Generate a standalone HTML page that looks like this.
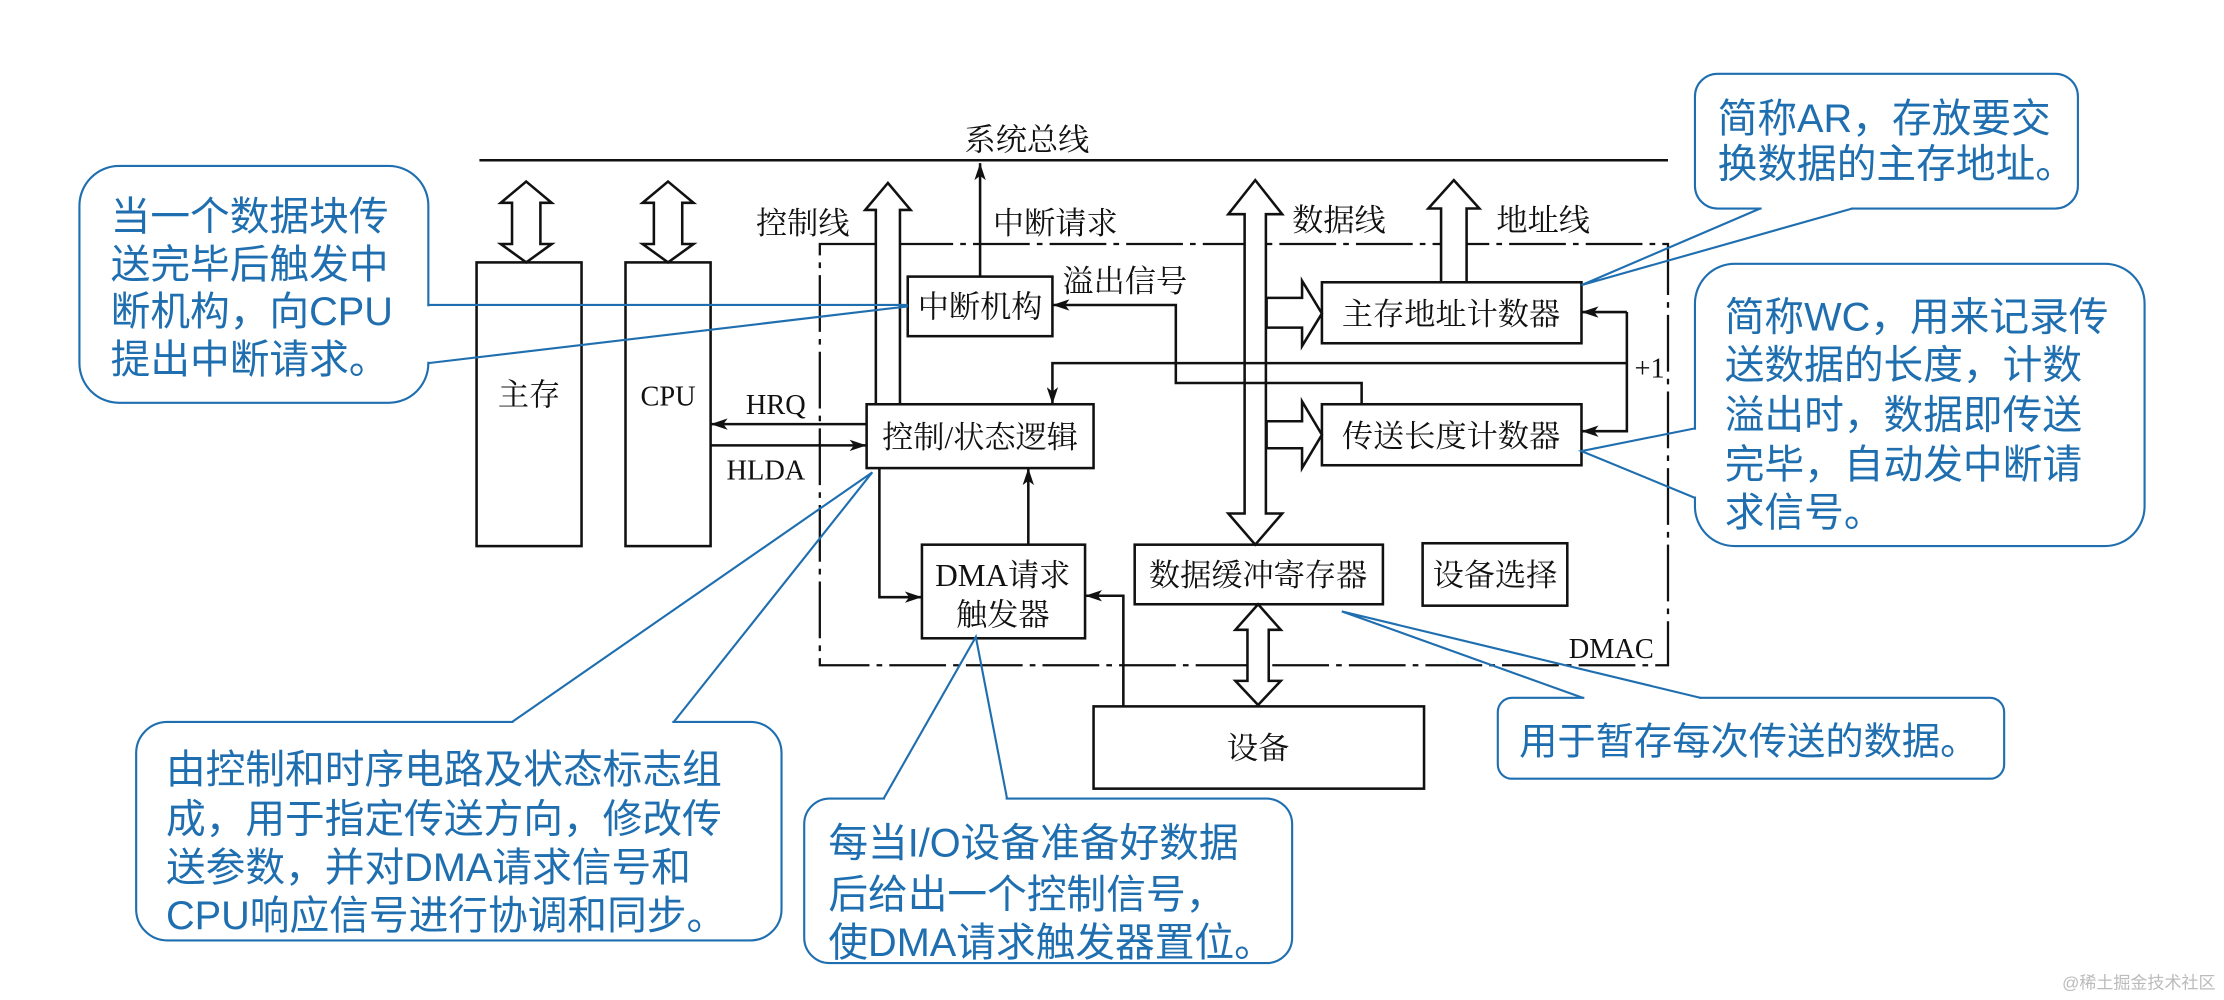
<!DOCTYPE html>
<html><head><meta charset="utf-8"><style>
html,body{margin:0;padding:0;background:#fff;}
svg{display:block}
.k{font-family:"Liberation Serif","Noto Serif CJK SC",serif;font-size:22px;fill:#111;}
.b{font-family:"Liberation Sans","Noto Sans CJK SC",sans-serif;font-size:28px;fill:#1f6fb0;}
</style></head><body>
<svg width="2224" height="1000" viewBox="0 0 1568 705" preserveAspectRatio="none" xmlns="http://www.w3.org/2000/svg">
<defs>
<marker id="ar" viewBox="0 0 12 8" refX="12" refY="4" markerWidth="12" markerHeight="8" orient="auto" markerUnits="userSpaceOnUse"><path d="M0,0 L12,4 L0,8 L3,4 z" fill="#111"/></marker>
</defs>
<g stroke="#111" stroke-width="1.8" fill="none">
<line x1="338" y1="113" x2="1176" y2="113"/>
<rect x="578" y="172" width="598" height="297" stroke-dasharray="40 5 4 5" stroke-width="1.6"/>
<rect x="336" y="185" width="74" height="200" fill="#fff"/>
<rect x="441" y="185" width="60" height="200" fill="#fff"/>
<rect x="640" y="195" width="102" height="42" fill="#fff"/>
<rect x="611" y="285" width="160" height="45" fill="#fff"/>
<rect x="650" y="384" width="115" height="66" fill="#fff"/>
<rect x="932" y="199" width="183" height="43" fill="#fff"/>
<rect x="932" y="285" width="183" height="43" fill="#fff"/>
<rect x="800" y="384" width="175" height="42" fill="#fff"/>
<rect x="1003" y="383" width="102" height="44" fill="#fff"/>
<rect x="771" y="498" width="233" height="58" fill="#fff"/>
<!-- hollow arrows -->
<polygon fill="#fff" points="371,128 389,143 381,143 381,172 389,172 371,185 353,172 361,172 361,143 353,143"/>
<polygon fill="#fff" points="471,128 489,143 481,143 481,172 489,172 471,185 453,172 461,172 461,143 453,143"/>
<polygon fill="#fff" points="626,129 642,148 634.5,148 634.5,285 617.5,285 617.5,148 610,148"/>
<polygon fill="#fff" points="885,127 904,151 892.5,151 892.5,362 904,362 885,384 866,362 877.5,362 877.5,151 866,151"/>
<polygon fill="#fff" points="1025,127 1043,147 1034,147 1034,199 1016,199 1016,147 1007,147"/>
<polygon fill="#fff" points="887,426 903,444 894.5,444 894.5,480 903,480 887,497 871,480 879.5,480 879.5,444 871,444"/>
<polygon fill="#fff" points="893,210 918,210 918,198 932,221 918,244 918,231 893,231"/>
<polygon fill="#fff" points="893,297 918,297 918,283 932,306.5 918,330 918,316 893,316"/>
<!-- thin lines -->
<line x1="691" y1="195" x2="691" y2="115" marker-end="url(#ar)"/>
<polyline points="960,285 960,270 829,270 829,215 742,215" marker-end="url(#ar)"/>
<polyline points="1147,256 742,256 742,285" marker-end="url(#ar)"/>
<polyline points="1147,220 1115,220" marker-end="url(#ar)"/>
<polyline points="1147,220 1147,304 1115,304" marker-end="url(#ar)"/>
<line x1="611" y1="299" x2="501" y2="299" marker-end="url(#ar)"/>
<line x1="501" y1="314" x2="611" y2="314" marker-end="url(#ar)"/>
<polyline points="620,330 620,421 650,421" marker-end="url(#ar)"/>
<line x1="725" y1="384" x2="725" y2="330" marker-end="url(#ar)"/>
<polyline points="792,498 792,420 765,420" marker-end="url(#ar)"/>
</g>
<g class="k" text-anchor="middle">
<text x="724" y="106">系统总线</text>
<text x="566" y="165">控制线</text>
<text x="744" y="165">中断请求</text>
<text x="944" y="163">数据线</text>
<text x="1088" y="163">地址线</text>
<text x="793" y="206">溢出信号</text>
<text x="691" y="224">中断机构</text>
<text x="1023" y="229">主存地址计数器</text>
<text x="1163" y="266" font-size="20">+1</text>
<text x="1023" y="315">传送长度计数器</text>
<text x="547" y="292" font-size="20">HRQ</text>
<text x="540" y="338" font-size="20">HLDA</text>
<text x="691" y="316">控制/状态逻辑</text>
<text x="373" y="286">主存</text>
<text x="471" y="286" font-size="20">CPU</text>
<text x="707" y="413">DMA请求</text>
<text x="707" y="441">触发器</text>
<text x="887" y="413">数据缓冲寄存器</text>
<text x="1054" y="413">设备选择</text>
<text x="1136" y="464" font-size="20">DMAC</text>
<text x="887" y="535">设备</text>
</g>
<!-- callouts -->
<g stroke="#1f6fb0" stroke-width="1.5" fill="none">
<rect x="56" y="117" width="246" height="167" rx="28"/>
<rect x="1195" y="52" width="270" height="95" rx="16"/>
<rect x="1195" y="186" width="317" height="199" rx="28"/>
<rect x="1056" y="492" width="357" height="57" rx="10"/>
<rect x="96" y="509" width="455" height="154" rx="22"/>
<rect x="567" y="563" width="344" height="116" rx="18"/>
</g>
<g stroke="#fff" stroke-width="3">
<line x1="302" y1="216" x2="302" y2="255"/>
<line x1="1242" y1="147" x2="1305" y2="147"/>
<line x1="1195" y1="303" x2="1195" y2="350"/>
<line x1="1117" y1="492" x2="1198" y2="492"/>
<line x1="362" y1="509" x2="474" y2="509"/>
<line x1="624" y1="563" x2="709" y2="563"/>
</g>
<g stroke="#1f6fb0" stroke-width="1.5" fill="none">
<polyline points="302,215 640,215"/><polyline points="302,256 640,216"/>
<polyline points="1241,147 1115,201 1306,147"/>
<polyline points="1195,302 1115,318 1195,351"/>
<polyline points="1116,492 946,431 1199,492"/>
<polyline points="361,509 615,333 475,509"/>
<polyline points="623,563 688,449 710,563"/>
</g>
<g class="b">
<text x="78" y="162">当一个数据块传</text>
<text x="78" y="196">送完毕后触发中</text>
<text x="78" y="229">断机构，向CPU</text>
<text x="78" y="263">提出中断请求。</text>
<text x="1211" y="93">简称AR，存放要交</text>
<text x="1211" y="125">换数据的主存地址。</text>
<text x="1216" y="233">简称WC，用来记录传</text>
<text x="1216" y="267">送数据的长度，计数</text>
<text x="1216" y="302">溢出时，数据即传送</text>
<text x="1216" y="337">完毕，自动发中断请</text>
<text x="1216" y="371">求信号。</text>
<text x="1071" y="532" font-size="27">用于暂存每次传送的数据。</text>
<text x="117" y="552">由控制和时序电路及状态标志组</text>
<text x="117" y="587">成，用于指定传送方向，修改传</text>
<text x="117" y="621">送参数，并对DMA请求信号和</text>
<text x="117" y="655">CPU响应信号进行协调和同步。</text>
<text x="584" y="604">每当I/O设备准备好数据</text>
<text x="584" y="640">后给出一个控制信号，</text>
<text x="584" y="674">使DMA请求触发器置位。</text>
</g>
<text x="1562" y="697" text-anchor="end" font-family="Liberation Sans,'Noto Sans CJK SC',sans-serif" font-size="12" fill="#bbb">@稀土掘金技术社区</text>
</svg>
</body></html>
